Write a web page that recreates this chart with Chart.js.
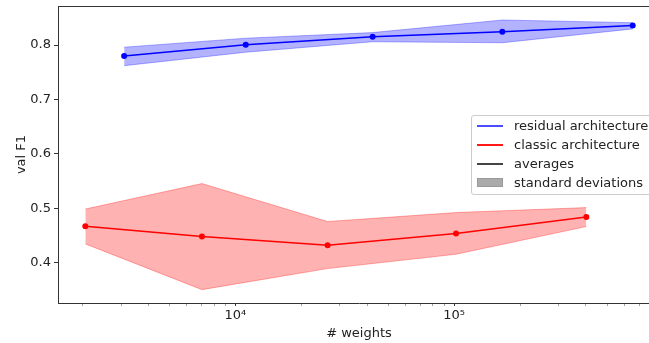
<!DOCTYPE html>
<html>
<head>
<meta charset="utf-8">
<script src="https://cdn.jsdelivr.net/npm/chart.js@4.4.1/dist/chart.umd.min.js"></script>
<style>
    html, body { margin: 0; padding: 0; background: #fff; overflow: hidden; }
    #wrap { position: relative; width: 664px; height: 343px; }
    #chart { display: block; }
    #legend {
        position: absolute; left: 471px; top: 115px; width: 184px; height: 80px;
        box-sizing: border-box; border: 1px solid #cccccc; border-radius: 3px;
        background: rgba(255, 255, 255, 0.8);
        font: 13px "DejaVu Sans", sans-serif; color: #222;
    }
    .row { position: absolute; left: 0; width: 100%; height: 19px; white-space: nowrap; }
    .sw { position: absolute; left: 5px; width: 26px; }
    .lbl { position: absolute; left: 42px; top: 0; line-height: 19px; }
</style>
</head>
<body>
<div id="wrap">
    <canvas id="chart" width="664" height="343"></canvas>
    <div id="legend"></div>
</div>
<script>
// residual architecture: mean and +/- std band
const weightsResidual = [3100, 11150, 42400, 166000, 655000];
const f1Residual = [0.780, 0.8005, 0.815, 0.8244, 0.836];
const upperResidual = [0.796, 0.8125, 0.8228, 0.8459, 0.841];
const lowerResidual = [0.762, 0.7868, 0.806, 0.8042, 0.8295];

// classic architecture
const weightsClassic = [2060, 7030, 26400, 102000, 402000];
const f1Classic = [0.4673, 0.4484, 0.4325, 0.454, 0.4844];
const upperClassic = [0.499, 0.5457, 0.476, 0.4925, 0.5016];
const lowerClassic = [0.435, 0.351, 0.3897, 0.416, 0.4668];

// axis ticks
const xMajorTicks = [1e4, 1e5];
const xTickLabels = ["10\u2074", "10\u2075"];
const yTicks = [0.4, 0.5, 0.6, 0.7, 0.8];

const legendLabels = ["residual architecture", "classic architecture", "averages", "standard deviations"];

const X_MIN = 1545;
const X_MAX = 873000;

// minor ticks 2..9 x 10^k, kept inside the axis range
const xTickValues = [];
[1e3, 1e4, 1e5].forEach((base) => {
    for (let m = 1; m <= 9; m++) {
        const v = m * base;
        if (v >= X_MIN && v <= X_MAX) xTickValues.push(v);
    }
});

const toPoints = (xs, ys) => xs.map((x, i) => ({ x: x, y: ys[i] }));

const BLUE = "#0000ff";
const RED = "#ff0000";
const BLUE_BAND = "rgba(0, 0, 255, 0.3)";
const RED_BAND = "rgba(255, 0, 0, 0.3)";

Chart.defaults.font.family = "'DejaVu Sans', sans-serif";
Chart.defaults.font.size = 13;
Chart.defaults.color = "#222";

// matplotlib-style top spine
const topSpine = {
    id: "topSpine",
    afterDraw(chart) {
        const { ctx, chartArea } = chart;
        ctx.save();
        ctx.strokeStyle = "#333";
        ctx.lineWidth = 1;
        ctx.beginPath();
        ctx.moveTo(chartArea.left, Math.round(chartArea.top) + 0.5);
        ctx.lineTo(chartArea.right, Math.round(chartArea.top) + 0.5);
        ctx.stroke();
        ctx.restore();
    },
};

function bandDataset(label, xs, ys, color, fill) {
    return {
        label: label,
        data: toPoints(xs, ys),
        borderColor: color,
        backgroundColor: color,
        borderWidth: 1,
        pointRadius: 0,
        tension: 0,
        fill: fill,
        order: 2,
    };
}

function meanDataset(label, xs, ys, color) {
    return {
        label: label,
        data: toPoints(xs, ys),
        borderColor: color,
        backgroundColor: color,
        borderWidth: 1.5,
        pointRadius: 3,
        pointBorderWidth: 0,
        tension: 0,
        fill: false,
        order: 0,
    };
}

// fixed axis boxes, no extra label padding
function fixBox(scale, size) {
    if (scale.isHorizontal()) scale.height = size;
    else scale.width = size;
    scale.paddingTop = 0;
    scale.paddingBottom = 0;
    scale.paddingLeft = 0;
    scale.paddingRight = 0;
}

new Chart(document.getElementById("chart"), {
    type: "line",
    data: {
        datasets: [
            bandDataset("residual upper", weightsResidual, upperResidual, BLUE_BAND, false),
            bandDataset("residual lower", weightsResidual, lowerResidual, BLUE_BAND, "-1"),
            bandDataset("classic upper", weightsClassic, upperClassic, RED_BAND, false),
            bandDataset("classic lower", weightsClassic, lowerClassic, RED_BAND, "-1"),
            meanDataset("residual architecture", weightsResidual, f1Residual, BLUE),
            meanDataset("classic architecture", weightsClassic, f1Classic, RED),
        ],
    },
    options: {
        responsive: false,
        animation: false,
        layout: { padding: { top: 6, left: 0, right: 0, bottom: 0 } },
        plugins: {
            legend: { display: false },
            tooltip: { enabled: false },
        },
        scales: {
            x: {
                type: "logarithmic",
                min: X_MIN,
                max: X_MAX,
                bounds: "data",
                afterBuildTicks: (scale) => {
                    scale.ticks = xTickValues.map((v) => ({ value: v, major: xMajorTicks.includes(v) }));
                },
                afterFit: (scale) => fixBox(scale, 40),
                ticks: {
                    autoSkip: false,
                    maxRotation: 0,
                    padding: 2,
                    callback: (value) => {
                        const i = xMajorTicks.indexOf(value);
                        return i >= 0 ? xTickLabels[i] : "";
                    },
                },
                grid: {
                    drawOnChartArea: false,
                    drawTicks: true,
                    tickLength: 3,
                    tickColor: (c) => (xMajorTicks.includes(c.tick && c.tick.value) ? "#333" : "#777"),
                    tickWidth: (c) => (xMajorTicks.includes(c.tick && c.tick.value) ? 1 : 0.7),
                },
                border: { color: "#333", width: 1 },
                title: {
                    display: true,
                    text: "# weights",
                    padding: { top: 0, bottom: 2 },
                },
            },
            y: {
                type: "linear",
                min: 0.3265,
                max: 0.8716,
                afterBuildTicks: (scale) => {
                    scale.ticks = yTicks.map((v) => ({ value: v }));
                },
                afterFit: (scale) => fixBox(scale, 58),
                ticks: {
                    padding: 3,
                    callback: (value) => Number(value).toFixed(1),
                },
                grid: {
                    drawOnChartArea: false,
                    drawTicks: true,
                    tickLength: 4,
                    tickColor: "#333",
                },
                border: { color: "#333", width: 1 },
                title: {
                    display: true,
                    text: "val F1",
                    padding: { top: 14, bottom: 0 },
                },
            },
        },
    },
    plugins: [topSpine],
});

// legend, drawn as html on top of the canvas
const legendSwatches = [
    { color: "rgba(0, 0, 255, 0.7)", kind: "line" },
    { color: "rgba(255, 0, 0, 0.9)", kind: "line" },
    { color: "#444", kind: "line" },
    { color: "#aaaaaa", kind: "patch" },
];
const legendBox = document.getElementById("legend");
const rowTops = [0, 19, 38, 57];
legendLabels.forEach((text, i) => {
    const row = document.createElement("div");
    row.className = "row";
    row.style.top = rowTops[i] + "px";
    const sw = document.createElement("div");
    sw.className = "sw";
    if (legendSwatches[i].kind === "line") {
        sw.style.top = "9px";
        sw.style.height = "2px";
        sw.style.background = legendSwatches[i].color;
    } else {
        sw.style.top = "5px";
        sw.style.height = "9px";
        sw.style.boxSizing = "border-box";
        sw.style.background = legendSwatches[i].color;
        sw.style.border = "1px solid #999";
    }
    const lbl = document.createElement("span");
    lbl.className = "lbl";
    lbl.textContent = text;
    row.appendChild(sw);
    row.appendChild(lbl);
    legendBox.appendChild(row);
});
</script>
</body>
</html>
